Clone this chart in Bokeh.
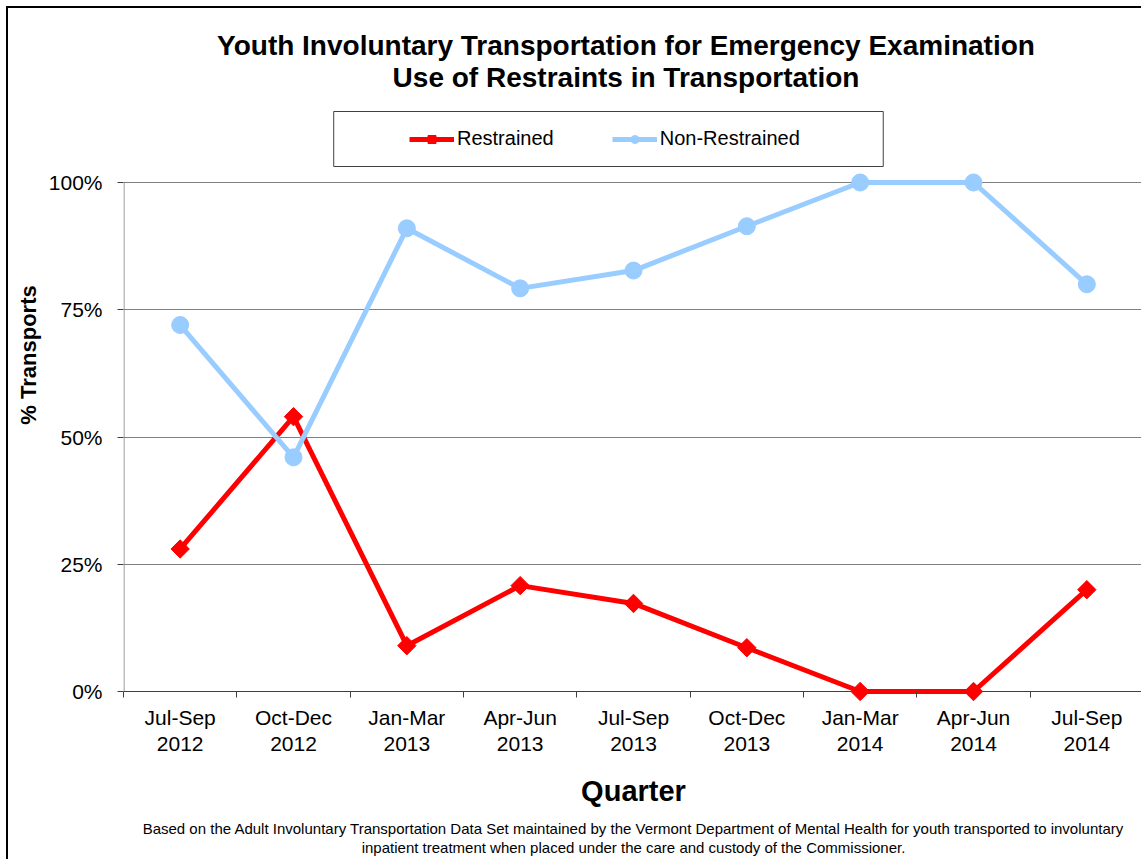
import math
from bokeh.plotting import figure
from bokeh.models import (Range1d, FixedTicker, Legend, LegendItem, Title, LinearAxis,
                          Label, BoxAnnotation, Grid)
from bokeh.embed import file_html
from bokeh.resources import INLINE

# ---------------- data ----------------
quarters = ["Jul-Sep\n2012", "Oct-Dec\n2012", "Jan-Mar\n2013", "Apr-Jun\n2013",
            "Jul-Sep\n2013", "Oct-Dec\n2013", "Jan-Mar\n2014", "Apr-Jun\n2014",
            "Jul-Sep\n2014"]
restrained = [28.0, 54.0, 9.0, 20.8, 17.3, 8.6, 0.0, 0.0, 20.0]
non_restrained = [72.0, 46.0, 91.0, 79.2, 82.7, 91.4, 100.0, 100.0, 80.0]
y_ticks = [0, 25, 50, 75, 100]
y_tick_labels = ["0%", "25%", "50%", "75%", "100%"]
series_names = ["Restrained", "Non-Restrained"]

title_lines = ["Youth Involuntary Transportation for Emergency Examination",
               "Use of Restraints in Transportation"]
footnote_lines = ["Based on the Adult Involuntary Transportation Data Set maintained by the "
                  "Vermont Department of Mental Health for youth transported to involuntary",
                  "inpatient treatment when placed under the care and custody of the Commissioner."]

FONT = "Liberation Sans"
RED = "#FF0000"
BLUE = "#99CCFF"

# ---------------- layout geometry (canvas pixels) ----------------
W, H = 1135, 853
LEFT, RIGHT_B = 115, 0
ZERO_PX = 683                    # canvas y of the 0 % line
PAD_BELOW = 10                   # frame continues a little below 0 %
BOTTOM = H - ZERO_PX - PAD_BELOW
PX_PER_PCT = 5.09                # 100 % spans 509 px
Y_TOP = ZERO_PX / PX_PER_PCT
Y_BOTTOM = -PAD_BELOW / PX_PER_PCT
N = len(quarters)
X_PX = (W - LEFT - 1) / N


def dx(cx):   # canvas x -> data x
    return 0.5 + (cx - LEFT) / X_PX


def dy(cy):   # canvas y -> data y
    return (ZERO_PX - cy) / PX_PER_PCT


xs = list(range(1, N + 1))
minor = [x - 0.5 for x in xs] + [xs[-1] + 0.5]

p = figure(width=W, height=H, output_backend="svg", toolbar_location=None,
           x_range=Range1d(0.5, N + 0.5), y_range=Range1d(Y_BOTTOM, Y_TOP),
           min_border_left=LEFT, min_border_right=RIGHT_B, min_border_top=0,
           min_border_bottom=BOTTOM, background_fill_color="white",
           border_fill_color="white",
           styles={"border-left": "2px solid black", "border-top": "2px solid black",
                   "margin-left": "6px", "margin-top": "6px"})
p.outline_line_color = None
p.title = None

# ---- plot-area box and grid ----
p.xgrid.visible = False
p.ygrid.ticker = FixedTicker(ticks=y_ticks[1:])
p.ygrid.grid_line_color = "#808080"
p.ygrid.grid_line_width = 1
p.add_layout(BoxAnnotation(left=dx(LEFT + 0.5), right=N + 0.5, bottom=0, top=100,
                           fill_alpha=0, line_color="#808080", line_width=1,
                           line_alpha=1, level="underlay"))
p.add_layout(Grid(dimension=1, ticker=FixedTicker(ticks=[0]),
                  grid_line_color="#404040", grid_line_width=1))

# ---- x axis (sits at the frame bottom, ticks reach up to the 0 % line) ----
xa = p.xaxis[0]
xa.ticker = FixedTicker(ticks=xs, minor_ticks=minor)
xa.major_label_overrides = {x: q for x, q in zip(xs, quarters)}
xa.major_tick_out = 0
xa.major_tick_in = 0
xa.minor_tick_in = PAD_BELOW
xa.minor_tick_out = -4
xa.minor_tick_line_color = "#404040"
xa.axis_line_color = None
xa.major_label_text_font = FONT
xa.major_label_text_font_size = "21px"
xa.major_label_text_color = "black"
xa.major_label_text_line_height = 1.17
xa.major_label_standoff = 4
xa.axis_label = "Quarter"
xa.axis_label_text_font = FONT
xa.axis_label_text_font_size = "29px"
xa.axis_label_text_font_style = "bold"
xa.axis_label_text_color = "black"
xa.axis_label_standoff = 17

# ---- y axis ----
ya = p.yaxis[0]
ya.ticker = FixedTicker(ticks=y_ticks)
ya.major_label_overrides = {t: l for t, l in zip(y_ticks, y_tick_labels)}
ya.major_tick_out = 6
ya.major_tick_in = 0
ya.minor_tick_out = 0
ya.minor_tick_in = 0
ya.major_tick_line_color = "#404040"
ya.axis_line_color = None
ya.major_label_text_font = FONT
ya.major_label_text_font_size = "21px"
ya.major_label_text_color = "black"
ya.major_label_standoff = 15
ya.axis_label = "% Transports"
ya.axis_label_text_font = FONT
ya.axis_label_text_font_size = "22px"
ya.axis_label_text_font_style = "bold"
ya.axis_label_text_color = "black"
ya.axis_label_standoff = 5

# right frame edge (0..100)
ra = LinearAxis(ticker=FixedTicker(ticks=[]), bounds=(0, 100),
                axis_line_color="#404040", major_label_text_font_size="0px",
                major_tick_out=0, minor_tick_out=0, major_tick_in=0, minor_tick_in=0)
p.add_layout(ra, "right")

# ---- series ----
r_line = p.line(xs, restrained, line_color=RED, line_width=5)
r_pts = p.scatter(xs, restrained, marker="square", angle=math.pi / 4, size=13,
                  fill_color=RED, line_color=RED)
b_line = p.line(xs, non_restrained, line_color=BLUE, line_width=5)
b_pts = p.scatter(xs, non_restrained, marker="circle", size=17,
                  fill_color=BLUE, line_color=BLUE)

# ---- titles ----
for text, cy in zip(title_lines, [37, 69]):
    p.add_layout(Label(x=dx(617), y=dy(cy), text=text, text_align="center",
                       text_baseline="middle", text_font=FONT, text_font_size="28px",
                       text_font_style="bold", text_color="black"))

# ---- legend ----
p.add_layout(BoxAnnotation(left=dx(325), right=dx(874), top=dy(103), bottom=dy(158),
                           fill_alpha=0, line_color="#404040", line_width=1,
                           line_alpha=1))
legend = Legend(items=[LegendItem(label=series_names[0], renderers=[r_line, r_pts]),
                       LegendItem(label=series_names[1], renderers=[b_line, b_pts])],
                orientation="horizontal",
                location=(401 - LEFT, ZERO_PX + PAD_BELOW - 142), padding=0,
                margin=0, spacing=58, label_standoff=3, glyph_width=45,
                glyph_height=20, label_text_font=FONT, label_text_font_size="20px",
                label_text_color="black", border_line_color=None,
                background_fill_alpha=0)
p.add_layout(legend, "center")

# ---- footnote ----
p.add_layout(Title(text=footnote_lines[0], align="center", standoff=14,
                   text_font=FONT, text_font_size="15px", text_font_style="normal",
                   text_color="black"), "below")
p.add_layout(Title(text=footnote_lines[1], align="center", standoff=-13,
                   text_font=FONT, text_font_size="15px", text_font_style="normal",
                   text_color="black"), "below")

open("out.html", "w").write(file_html(p, INLINE))
